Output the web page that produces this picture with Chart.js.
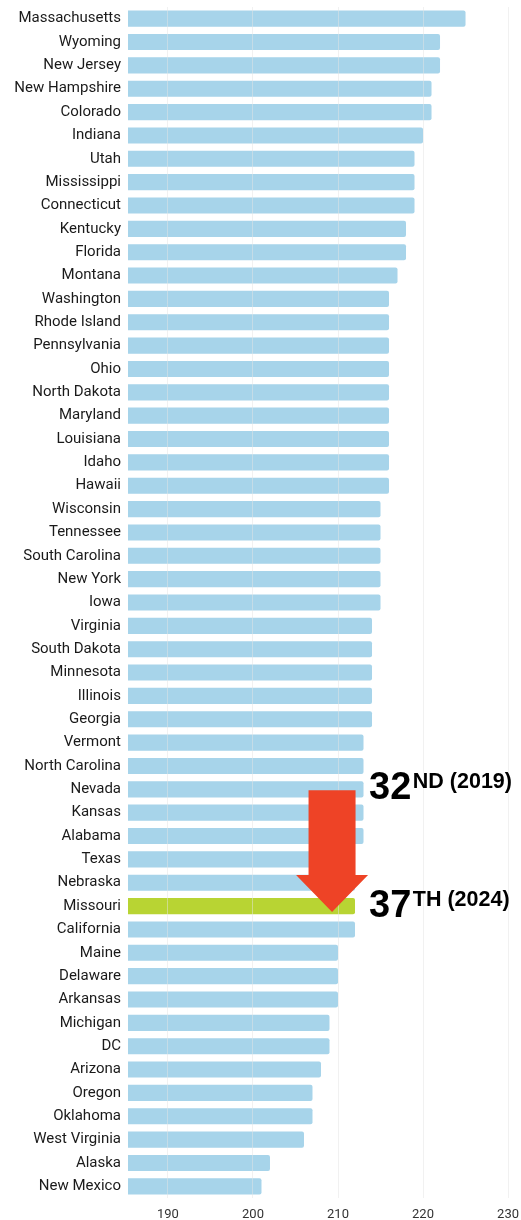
<!DOCTYPE html>
<html>
<head>
<meta charset="utf-8">
<script src="https://cdn.jsdelivr.net/npm/chart.js@4/dist/chart.umd.min.js"></script>
<style>
  html, body { margin: 0; padding: 0; background: #fff; }
  #wrap { width: 521px; height: 1220px; position: relative; }
</style>
</head>
<body>
<div id="wrap"><canvas id="c"></canvas></div>
<script>
const categories = [
  "Massachusetts","Wyoming","New Jersey","New Hampshire","Colorado","Indiana","Utah",
  "Mississippi","Connecticut","Kentucky","Florida","Montana","Washington","Rhode Island",
  "Pennsylvania","Ohio","North Dakota","Maryland","Louisiana","Idaho","Hawaii",
  "Wisconsin","Tennessee","South Carolina","New York","Iowa","Virginia","South Dakota",
  "Minnesota","Illinois","Georgia","Vermont","North Carolina","Nevada","Kansas","Alabama",
  "Texas","Nebraska","Missouri","California","Maine","Delaware","Arkansas","Michigan",
  "DC","Arizona","Oregon","Oklahoma","West Virginia","Alaska","New Mexico"
];
const scores = [
  225,222,222,221,221,220,219,
  219,219,218,218,217,216,216,
  216,216,216,216,216,216,216,
  215,215,215,215,215,214,214,
  214,214,214,213,213,213,213,213,
  212,212,212,212,210,210,210,209,
  209,208,207,207,206,202,201
];
const xTicks = [190, 200, 210, 220, 230];
const highlightState = "Missouri";
const fromState = "Nevada";
const rank2019 = ["32", "ND (2019)"];
const rank2024 = ["37", "TH (2024)"];

const baseColor = "#a7d4ea";
const highlightColor = "#b8d433";
const arrowColor = "#ee4326";

const annotationPlugin = {
  id: "rankArrow",
  afterDraw(chart) {
    const ctx = chart.ctx;
    const xs = chart.scales.x, ys = chart.scales.y;
    const yFrom = ys.getPixelForValue(categories.indexOf(fromState));
    const yTo = ys.getPixelForValue(categories.indexOf(highlightState));
    const cx = xs.getPixelForValue(209.3);
    const shaftHalf = 23.5, headHalf = 36, headH = 37;
    const tip = yTo + 6;
    ctx.save();
    ctx.fillStyle = arrowColor;
    ctx.beginPath();
    ctx.moveTo(cx - shaftHalf, yFrom + 1);
    ctx.lineTo(cx + shaftHalf, yFrom + 1);
    ctx.lineTo(cx + shaftHalf, tip - headH);
    ctx.lineTo(cx + headHalf, tip - headH);
    ctx.lineTo(cx, tip);
    ctx.lineTo(cx - headHalf, tip - headH);
    ctx.lineTo(cx - shaftHalf, tip - headH);
    ctx.closePath();
    ctx.fill();

    const tx = xs.getPixelForValue(213.65);
    function drawRank(parts, baseY) {
      ctx.fillStyle = "#000";
      ctx.textAlign = "left";
      ctx.textBaseline = "alphabetic";
      ctx.font = "bold 38px 'Liberation Sans', Arial, sans-serif";
      ctx.fillText(parts[0], tx, baseY);
      const w = ctx.measureText(parts[0]).width;
      ctx.font = "bold 21.5px 'Liberation Sans', Arial, sans-serif";
      ctx.fillText(parts[1], tx + w + 1.5, baseY - 11);
    }
    drawRank(rank2019, yFrom + 10);
    drawRank(rank2024, yTo + 11);
    ctx.restore();
  }
};

new Chart(document.getElementById("c"), {
  type: "bar",
  data: {
    labels: categories,
    datasets: [{
      data: scores,
      backgroundColor: categories.map(c => c === highlightState ? highlightColor : baseColor),
      borderWidth: 0,
      borderRadius: 2,
      borderSkipped: false,
      barPercentage: 0.69,
      categoryPercentage: 1.0
    }]
  },
  options: {
    indexAxis: "y",
    responsive: true,
    maintainAspectRatio: false,
    animation: false,
    layout: { padding: { top: 7, right: 0, bottom: 0, left: 0 } },
    plugins: { legend: { display: false }, tooltip: { enabled: false } },
    scales: {
      x: {
        min: 185.3,
        max: 230,
        afterBuildTicks(scale) { scale.ticks = xTicks.map(v => ({ value: v })); },
        afterFit(scale) { scale.height = 22; },
        grid: { color: "rgba(228,228,228,0.5)", drawTicks: true, tickLength: 7, tickColor: "rgba(0,0,0,0)", z: 1 },
        border: { display: false },
        ticks: {
          padding: 2,
          color: "#333",
          font: { family: "Roboto", size: 13 },
          maxRotation: 0
        }
      },
      y: {
        afterFit(scale) { scale.width = 128; scale.paddingTop = 0; scale.paddingBottom = 0; },
        grid: { display: false, drawTicks: false },
        border: { display: false },
        ticks: {
          padding: 7,
          color: "#1a1a1a",
          autoSkip: false,
          font: { family: "Roboto", size: 15 }
        }
      }
    }
  },
  plugins: [annotationPlugin]
});
</script>
</body>
</html>
